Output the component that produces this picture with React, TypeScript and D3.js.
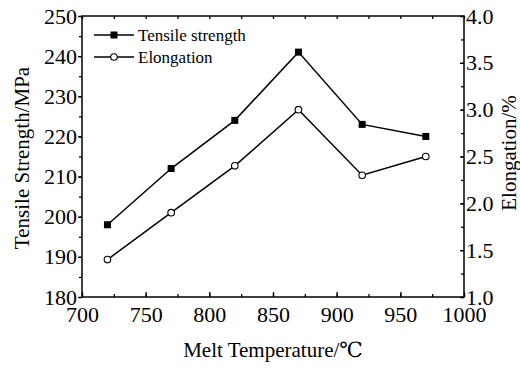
import React, { useRef, useEffect } from "react";
import * as d3 from "d3";

const temperatures = [720, 770, 820, 870, 920, 970];
const tensileStrength = [198, 212, 224, 241, 223, 220];
const elongation = [1.4, 1.9, 2.4, 3.0, 2.3, 2.5];
const xTicks = [700, 750, 800, 850, 900, 950, 1000];
const leftTicks = [180, 190, 200, 210, 220, 230, 240, 250];
const rightTicks = [1.0, 1.5, 2.0, 2.5, 3.0, 3.5, 4.0];

const FONT = "Liberation Serif, DejaVu Serif, serif";

const App: React.FC = () => {
  const svgRef = useRef<SVGSVGElement | null>(null);

  useEffect(() => {
    const svg = d3.select(svgRef.current);
    const width = 520;
    const height = 370;
    const margin = { top: 16, right: 56, bottom: 73, left: 82 };

    svg.selectAll("*").remove();

    const x = d3
      .scaleLinear()
      .domain([700, 1000])
      .range([margin.left, width - margin.right]);

    const yL = d3
      .scaleLinear()
      .domain([180, 250])
      .range([height - margin.bottom, margin.top]);

    const yR = d3
      .scaleLinear()
      .domain([1.0, 4.0])
      .range([height - margin.bottom, margin.top]);

    const styleAxis = (g: d3.Selection<SVGGElement, unknown, null, undefined>) => {
      g.attr("font-family", null).attr("font-size", null);
      g.select(".domain").remove();
      g.selectAll("line").attr("stroke", "#000").attr("stroke-width", 1.3);
      g.selectAll("text")
        .style("font-family", FONT)
        .style("font-size", "22px")
        .attr("fill", "#000");
    };

    const minorX = d3.range(700, 1001, 25);
    const minorL = d3.range(180, 251, 5);
    const minorR = d3.range(1.0, 4.01, 0.25);

    // bottom axis, ticks inward
    svg
      .append("g")
      .attr("transform", `translate(0,${height - margin.bottom})`)
      .call(d3.axisBottom(x).tickValues(minorX).tickSize(-3).tickFormat(() => ""))
      .call(styleAxis);
    svg
      .append("g")
      .attr("transform", `translate(0,${height - margin.bottom})`)
      .call(
        d3.axisBottom(x).tickValues(xTicks).tickSize(-5).tickPadding(9).tickFormat(d3.format("d"))
      )
      .call(styleAxis);

    // top axis, minor ticks inward
    svg
      .append("g")
      .attr("transform", `translate(0,${margin.top})`)
      .call(d3.axisTop(x).tickValues(minorX).tickSize(-3).tickFormat(() => ""))
      .call(styleAxis);

    // left axis, ticks outward
    svg
      .append("g")
      .attr("transform", `translate(${margin.left},0)`)
      .call(d3.axisLeft(yL).tickValues(minorL).tickSize(3).tickFormat(() => ""))
      .call(styleAxis);
    svg
      .append("g")
      .attr("transform", `translate(${margin.left},0)`)
      .call(d3.axisLeft(yL).tickValues(leftTicks).tickSize(4).tickPadding(1).tickFormat(d3.format("d")))
      .call(styleAxis);

    // right axis, ticks inward
    svg
      .append("g")
      .attr("transform", `translate(${width - margin.right},0)`)
      .call(d3.axisRight(yR).tickValues(minorR).tickSize(-3).tickFormat(() => ""))
      .call(styleAxis);
    svg
      .append("g")
      .attr("transform", `translate(${width - margin.right},0)`)
      .call(d3.axisRight(yR).tickValues(rightTicks).tickSize(-4).tickPadding(2).tickFormat(d3.format(".1f")))
      .call(styleAxis);

    // frame
    svg
      .append("rect")
      .attr("x", margin.left)
      .attr("y", margin.top)
      .attr("width", width - margin.left - margin.right)
      .attr("height", height - margin.top - margin.bottom)
      .attr("fill", "none")
      .attr("stroke", "#000")
      .attr("stroke-width", 1.5);

    // lines
    const lineL = d3
      .line<number>()
      .x((_, i) => x(temperatures[i]))
      .y((d) => yL(d));
    const lineR = d3
      .line<number>()
      .x((_, i) => x(temperatures[i]))
      .y((d) => yR(d));

    svg
      .append("path")
      .datum(tensileStrength)
      .attr("d", lineL)
      .attr("fill", "none")
      .attr("stroke", "#000")
      .attr("stroke-width", 1.5);
    svg
      .append("path")
      .datum(elongation)
      .attr("d", lineR)
      .attr("fill", "none")
      .attr("stroke", "#000")
      .attr("stroke-width", 1.5);

    svg
      .append("g")
      .selectAll("rect")
      .data(tensileStrength)
      .join("rect")
      .attr("x", (_, i) => x(temperatures[i]) - 3.5)
      .attr("y", (d) => yL(d) - 3.5)
      .attr("width", 7)
      .attr("height", 7)
      .attr("fill", "#000");

    svg
      .append("g")
      .selectAll("circle")
      .data(elongation)
      .join("circle")
      .attr("cx", (_, i) => x(temperatures[i]))
      .attr("cy", (d) => yR(d))
      .attr("r", 3.3)
      .attr("fill", "#fff")
      .attr("stroke", "#000")
      .attr("stroke-width", 1.1);

    // legend
    const legend = svg.append("g").style("font-family", FONT).style("font-size", "17px");
    const rows = [
      { label: "Tensile strength", y: 35, square: true },
      { label: "Elongation", y: 57, square: false },
    ];
    rows.forEach((r) => {
      legend
        .append("line")
        .attr("x1", 94)
        .attr("x2", 134)
        .attr("y1", r.y)
        .attr("y2", r.y)
        .attr("stroke", "#000")
        .attr("stroke-width", 1.5);
      if (r.square) {
        legend.append("rect").attr("x", 110.5).attr("y", r.y - 3.5).attr("width", 7).attr("height", 7).attr("fill", "#000");
      } else {
        legend
          .append("circle")
          .attr("cx", 114)
          .attr("cy", r.y)
          .attr("r", 3.3)
          .attr("fill", "#fff")
          .attr("stroke", "#000")
          .attr("stroke-width", 1.1);
      }
      legend
        .append("text")
        .attr("x", 138)
        .attr("y", r.y)
        .attr("dominant-baseline", "central")
        .text(r.label);
    });

    // axis titles
    const title = (t: string) =>
      svg.append("text").style("font-family", FONT).style("font-size", "21px").attr("fill", "#000").text(t);

    title("Melt Temperature/℃")
      .attr("x", (margin.left + width - margin.right) / 2)
      .attr("y", 357)
      .attr("text-anchor", "middle");

    title("Tensile Strength/MPa")
      .attr("transform", "translate(22,158) rotate(-90)")
      .attr("text-anchor", "middle")
      .attr("dominant-baseline", "central");

    title("Elongation/%")
      .attr("transform", "translate(509,153) rotate(-90)")
      .attr("text-anchor", "middle")
      .attr("dominant-baseline", "central");
  }, []);

  return (
    <div style={{ position: "absolute", left: 0, top: 0 }}>
      <svg ref={svgRef} width="520" height="370" style={{ display: "block", background: "#fff" }} />
    </div>
  );
};

export default App;
